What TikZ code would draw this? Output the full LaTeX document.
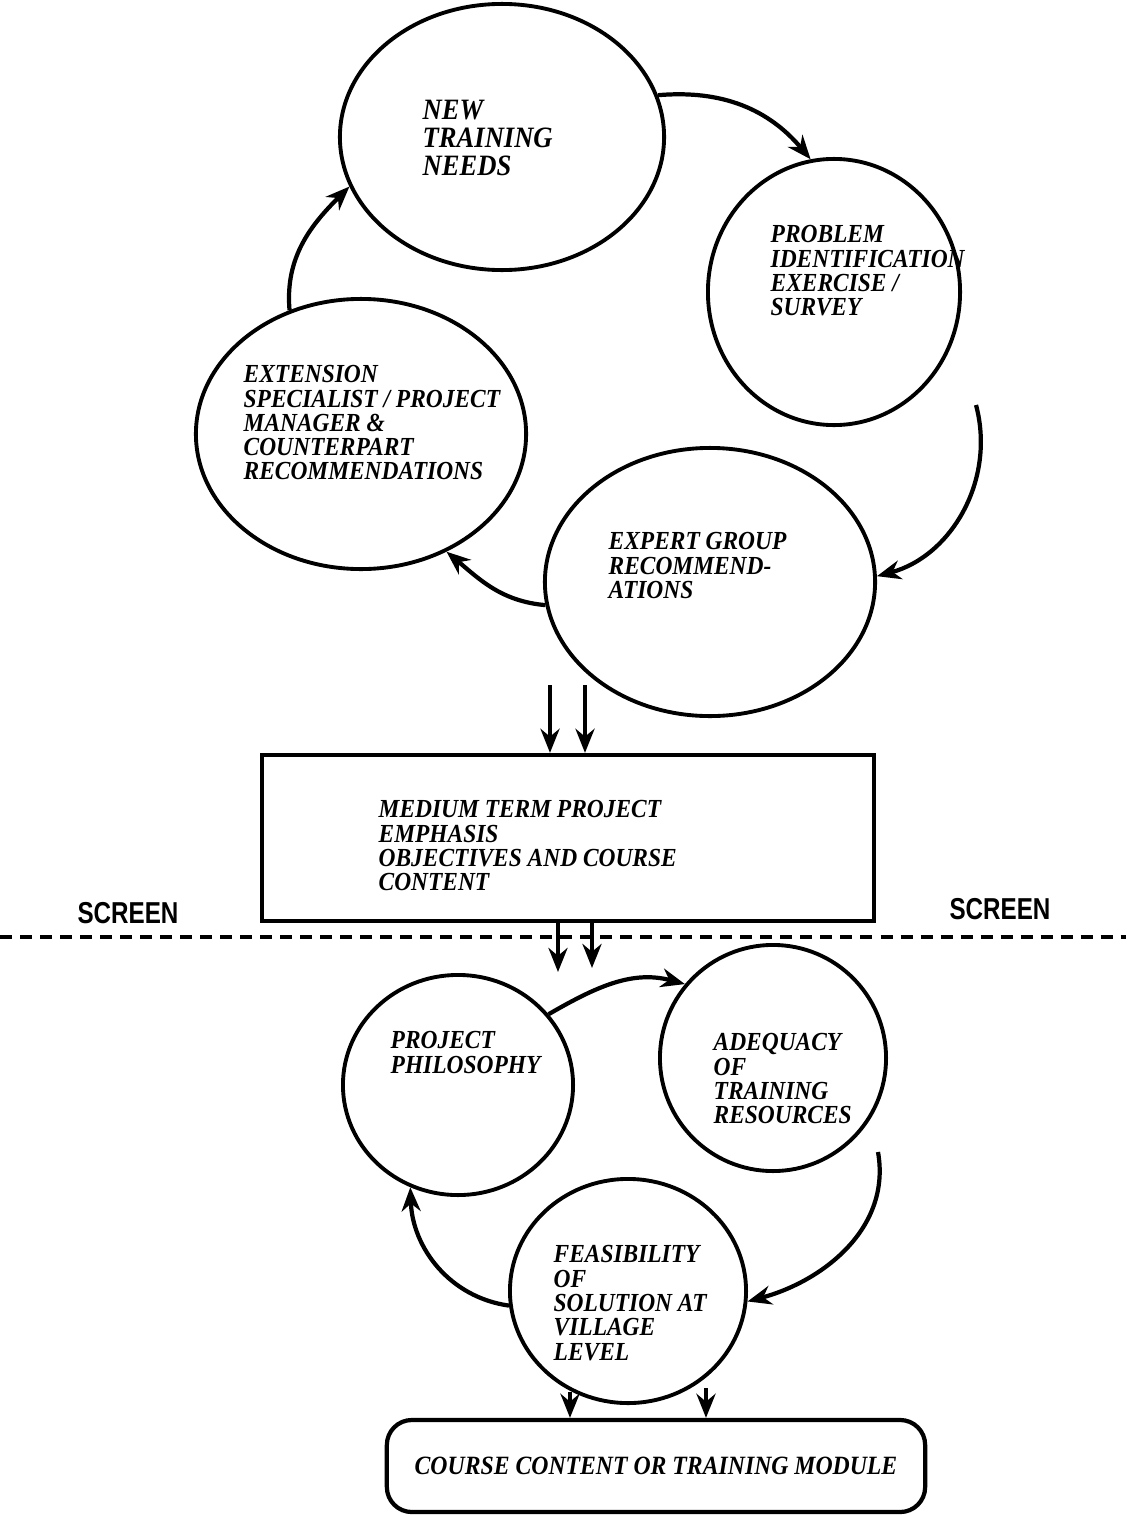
\documentclass[tikz,border=0pt]{standalone}
\usepackage{fontspec}
\setmainfont{Liberation Serif}[FakeStretch=0.9]
\newfontfamily\screenfont[FakeStretch=0.8]{Liberation Sans}
\usetikzlibrary{shapes.geometric, arrows, arrows.meta, positioning}
\tikzstyle{bubble} = [ellipse, draw=black, line width=1.1pt, inner sep=0pt]
\tikzstyle{process} = [rectangle, draw=black, line width=1.2pt, inner sep=0pt]
\tikzstyle{module} = [rectangle, rounded corners=0.25cm, draw=black, line width=1.2pt, minimum width=5.38cm, minimum height=0.92cm, text centered, font=\fontsize{7.5}{7.5}\selectfont\bfseries\itshape]
\tikzstyle{bubbletext} = [anchor=north west, inner sep=0pt, align=left, font=\fontsize{7.4}{6.9}\selectfont\bfseries\itshape]
\tikzstyle{screenlabel} = [inner sep=0pt, font=\fontsize{8.6}{8.6}\selectfont\screenfont\bfseries]
\tikzstyle{arrow} = [line width=1.2pt,-{Stealth[length=0.24cm,width=0.19cm]}]

\begin{document}
\begin{tikzpicture}[x=0.01cm, y=-0.01cm]
\useasboundingbox (0,0) rectangle (1126,1515);

% Upper cycle
\node (needs) [bubble, minimum width=3.24cm, minimum height=2.66cm] at (502,137) {};
\node (problem) [bubble, minimum width=2.52cm, minimum height=2.66cm] at (834,292) {};
\node (extension) [bubble, minimum width=3.30cm, minimum height=2.70cm] at (361,434) {};
\node (expert) [bubble, minimum width=3.30cm, minimum height=2.68cm] at (710,582) {};

\node (needstext) [bubbletext, font=\fontsize{8.4}{8}\selectfont\bfseries\itshape] at (422,99) {NEW\\TRAINING\\NEEDS};
\node (problemtext) [bubbletext] at (770,225) {PROBLEM\\IDENTIFICATION\\EXERCISE /\\SURVEY};
\node (extensiontext) [bubbletext] at (243,365) {EXTENSION\\SPECIALIST / PROJECT\\MANAGER \&\\COUNTERPART\\RECOMMENDATIONS};
\node (experttext) [bubbletext] at (608,532) {EXPERT GROUP\\RECOMMEND-\\ATIONS};

% Medium term box
\node (medium) [process, minimum width=6.12cm, minimum height=1.66cm] at (568,838) {};
\node (mediumtext) [bubbletext] at (378,800) {MEDIUM TERM PROJECT\\EMPHASIS\\OBJECTIVES AND COURSE\\CONTENT};

% Screen
\node (screenleft) [screenlabel] at (128,913) {SCREEN};
\node (screenright) [screenlabel] at (1000,909) {SCREEN};
\coordinate (lineleft) at (0,937);
\coordinate (lineright) at (1126,937);
\draw [line width=1.3pt, dash pattern=on 0.12cm off 0.08cm] (lineleft) -- (lineright);

% Lower cycle
\node (philosophy) [bubble, minimum width=2.30cm, minimum height=2.20cm] at (458,1085) {};
\node (adequacy) [bubble, minimum width=2.26cm, minimum height=2.26cm] at (773,1058) {};
\node (feasibility) [bubble, minimum width=2.36cm, minimum height=2.24cm] at (628,1291) {};

\node (philosophytext) [bubbletext] at (390,1031) {PROJECT\\PHILOSOPHY};
\node (adequacytext) [bubbletext] at (713,1033) {ADEQUACY\\OF\\TRAINING\\RESOURCES};
\node (feasibilitytext) [bubbletext] at (553,1245) {FEASIBILITY\\OF\\SOLUTION AT\\VILLAGE\\LEVEL};

\node (course) [module] at (656,1466) {COURSE CONTENT OR TRAINING MODULE};

% Arrows
\coordinate (problemout) at (976,405);
\coordinate (expertout1) at (550,685);
\coordinate (expertout2) at (585,685);
\coordinate (screenin1) at (558,972);
\coordinate (screenin2) at (592,968);
\coordinate (adequacyout) at (878,1152);
\coordinate (feasout1) at (570,1392);
\coordinate (feasout2) at (706,1388);

\draw [arrow] (needs.15) to[out=5, in=130] (problem.100);
\draw [arrow] (problemout) to[out=-75, in=15] (expert.2);
\draw [arrow] (expert.188) to[out=175, in=-40] (extension.-54);
\draw [arrow] (extension.120) to[out=95, in=225] (needs.198);

\draw [arrow] (expertout1) -- (expertout1 |- medium.north);
\draw [arrow] (expertout2) -- (expertout2 |- medium.north);
\draw [arrow] (screenin1 |- medium.south) -- (screenin1);
\draw [arrow] (screenin2 |- medium.south) -- (screenin2);

\draw [arrow] (philosophy.38) to[out=30, in=165] (adequacy.140);
\draw [arrow] (adequacyout) to[out=-80, in=15] (feasibility.-5);
\draw [arrow] (feasibility.187) to[out=172, in=-88] (philosophy.245);

\draw [arrow] (feasout1) -- (feasout1 |- course.north);
\draw [arrow] (feasout2) -- (feasout2 |- course.north);

\end{tikzpicture}
\end{document}
